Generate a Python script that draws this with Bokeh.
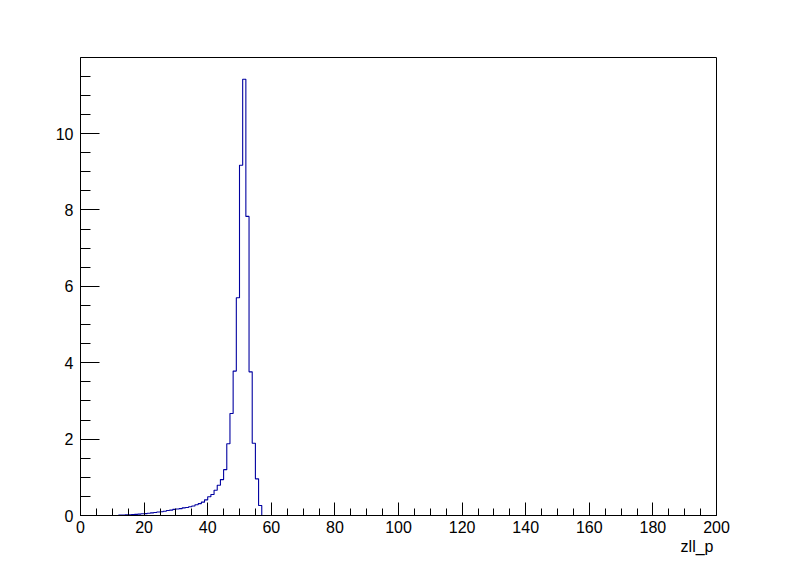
import numpy as np
from bokeh.plotting import figure
from bokeh.models import Range1d, FixedTicker, Title
from bokeh.embed import file_html
from bokeh.resources import INLINE

# ---- data (histogram zll_p, bin width 1, lower edges) ----
bin_low = list(range(12, 57))
counts = [0.01, 0.015, 0.02, 0.02, 0.025, 0.03, 0.035, 0.045, 0.05, 0.06,
          0.07, 0.08, 0.09, 0.10, 0.11, 0.13, 0.14, 0.16, 0.17, 0.18,
          0.20, 0.21, 0.23, 0.25, 0.28, 0.31, 0.35, 0.41, 0.49, 0.55,
          0.66, 0.79, 0.94, 1.20, 1.88, 2.67, 3.78, 5.70, 9.17, 11.42,
          7.83, 3.76, 1.89, 0.96, 0.26]
bin_width = 1.0
x_ticks = [0, 20, 40, 60, 80, 100, 120, 140, 160, 180, 200]
y_ticks = [0, 2, 4, 6, 8, 10]
x_label = "zll_p"

x_minor = list(np.arange(0, 200.1, 5))
y_minor = list(np.arange(0, 12.0, 0.5))

# step outline like ROOT's histogram drawing
xs = [bin_low[0]] + bin_low + [bin_low[-1] + bin_width]
ys = [0] + counts + [0]

p = figure(width=796, height=572, x_range=Range1d(0, 200), y_range=Range1d(0, 11.99),
           output_backend="svg", toolbar_location=None,
           min_border_left=80, min_border_right=80, min_border_top=57, min_border_bottom=57)
p.background_fill_color = "white"
p.border_fill_color = "white"
p.outline_line_color = "black"
p.outline_line_width = 1
p.grid.visible = False

p.step(xs, ys, mode="after", line_color="#0000a0", line_width=1.1)

FONT = "Liberation Sans"
for ax in (p.xaxis[0], p.yaxis[0]):
    ax.axis_line_color = "black"
    ax.major_tick_line_color = "black"
    ax.minor_tick_line_color = "black"
    ax.major_tick_out = 0
    ax.minor_tick_out = 0
    ax.major_label_text_font = FONT
    ax.major_label_text_font_size = "16px"
    ax.major_label_text_color = "black"

p.xaxis[0].ticker = FixedTicker(ticks=x_ticks, minor_ticks=x_minor)
p.yaxis[0].ticker = FixedTicker(ticks=y_ticks, minor_ticks=y_minor)
p.xaxis[0].major_tick_in = 13
p.xaxis[0].minor_tick_in = 7
p.yaxis[0].major_tick_in = 19
p.yaxis[0].minor_tick_in = 10
p.xaxis[0].major_label_standoff = 5
p.yaxis[0].major_label_standoff = 7

t = Title(text=x_label, align="right", text_font=FONT, text_font_size="16px",
          text_font_style="normal", text_color="black", standoff=0, offset=3)
p.add_layout(t, "below")

open("out.html", "w").write(file_html(p, INLINE))
